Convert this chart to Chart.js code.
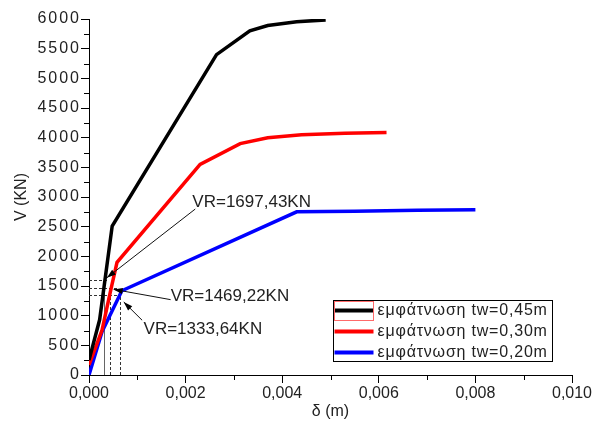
<!DOCTYPE html>
<html>
<head>
<meta charset="utf-8">
<script src="https://cdn.jsdelivr.net/npm/chart.js@4"></script>
<style>
  body { margin: 0; background: #fff; }
</style>
</head>
<body>
<canvas id="myChart" width="596" height="425"></canvas>
<script>
// series data, δ (m) and V (KN)
const labels = ['εμφάτνωση tw=0,45m', 'εμφάτνωση tw=0,30m', 'εμφάτνωση tw=0,20m'];
const d045 = [0, 0.00022, 0.00048, 0.00264, 0.00333, 0.0037, 0.0043, 0.0049];
const v045 = [250, 930, 2510, 5400, 5800, 5890, 5955, 5985];
const d030 = [0, 0.00027, 0.00045, 0.00058, 0.0023, 0.00313, 0.0037, 0.0044, 0.0053, 0.00616];
const v030 = [170, 755, 1430, 1900, 3550, 3900, 4000, 4050, 4075, 4085];
const d020 = [0, 0.00027, 0.00068, 0.0043, 0.0055, 0.0068, 0.008];
const v020 = [0, 730, 1420, 2750, 2760, 2775, 2785];

// guide lines
const guideV = [1606, 1465, 1342];
const guideD = [0.00032, 0.000445, 0.00065];
const guideEnd = [0.0004, 0.00062, 0.00065];

// notes
const noteText = ['VR=1697,43KN', 'VR=1469,22KN', 'VR=1333,64KN'];
const noteX = [0.00214, 0.00169, 0.00113];
const noteY = [2908, 1326, 767];
const arrowFromX = [0.0022, 0.00169, 0.0011];
const arrowFromY = [2797, 1270, 923];
const arrowToX = [0.00037, 0.00051, 0.00072];
const arrowToY = [1639, 1443, 1230];

const FONT = "'Liberation Sans', Arial, sans-serif";
const pts = (xs, ys) => xs.map((x, i) => ({ x: x, y: ys[i] }));

const extras = {
    id: 'extras',
    beforeDatasetsDraw(chart) {
        const c = chart.ctx, xs = chart.scales.x, ys = chart.scales.y;
        c.save();
        c.lineWidth = 1;
        for (let i = 0; i < guideV.length; i++) {
            const py = Math.round(ys.getPixelForValue(guideV[i])) + 0.5;
            const px = Math.round(xs.getPixelForValue(guideD[i])) + 0.5;
            c.strokeStyle = '#333';
            c.setLineDash([3, 2]);
            c.beginPath();
            c.moveTo(xs.getPixelForValue(0), py);
            c.lineTo(xs.getPixelForValue(guideEnd[i]), py);
            c.stroke();
            if (i == 0) { c.setLineDash([]); c.strokeStyle = '#666'; }
            c.beginPath();
            c.moveTo(px, ys.getPixelForValue(0));
            c.lineTo(px, py);
            c.stroke();
        }
        c.restore();
    },
    afterDraw(chart) {
        const c = chart.ctx, xs = chart.scales.x, ys = chart.scales.y;
        c.save();
        // minor ticks
        c.strokeStyle = '#000';
        c.lineWidth = 1;
        const bottom = ys.getPixelForValue(0), left = xs.getPixelForValue(0);
        for (let v = 250; v < 6000; v += 500) {
            const p = Math.round(ys.getPixelForValue(v)) + 0.5;
            c.beginPath(); c.moveTo(left - 5, p); c.lineTo(left, p); c.stroke();
        }
        for (let k = 1; k < 10; k += 2) {
            const p = Math.round(xs.getPixelForValue(k / 1000)) + 0.5;
            c.beginPath(); c.moveTo(p, bottom); c.lineTo(p, bottom + 5); c.stroke();
        }

        // notes with arrows
        c.fillStyle = '#222';
        c.font = '17px ' + FONT;
        c.textBaseline = 'middle';
        c.textAlign = 'left';
        for (let i = 0; i < noteText.length; i++) {
            c.fillText(noteText[i], xs.getPixelForValue(noteX[i]), ys.getPixelForValue(noteY[i]));
            const x1 = xs.getPixelForValue(arrowFromX[i]), y1 = ys.getPixelForValue(arrowFromY[i]);
            const x2 = xs.getPixelForValue(arrowToX[i]), y2 = ys.getPixelForValue(arrowToY[i]);
            const a = Math.atan2(y2 - y1, x2 - x1);
            c.strokeStyle = '#111';
            c.beginPath(); c.moveTo(x1, y1); c.lineTo(x2, y2); c.stroke();
            c.fillStyle = '#000';
            c.beginPath();
            c.moveTo(x2, y2);
            c.lineTo(x2 - 9 * Math.cos(a) + 3 * Math.sin(a), y2 - 9 * Math.sin(a) - 3 * Math.cos(a));
            c.lineTo(x2 - 9 * Math.cos(a) - 3 * Math.sin(a), y2 - 9 * Math.sin(a) + 3 * Math.cos(a));
            c.closePath();
            c.fill();
            c.fillStyle = '#222';
        }

        // legend box
        const lx = 333.5, ly = 300.5, lw = 219, lh = 61;
        c.fillStyle = '#fff';
        c.fillRect(lx, ly, lw, lh);
        c.strokeStyle = '#000';
        c.strokeRect(lx, ly, lw, lh);
        c.font = '16px ' + FONT;
        c.letterSpacing = '0.8px';
        chart.data.datasets.forEach((ds, i) => {
            const ry = ly + 10 + i * 21;
            c.strokeStyle = ds.borderColor;
            c.lineWidth = 4;
            c.beginPath(); c.moveTo(lx + 1, ry); c.lineTo(lx + 40, ry); c.stroke();
            c.fillStyle = '#222';
            c.fillText(ds.label, lx + 44, ry);
        });
        c.letterSpacing = '0px';
        c.lineWidth = 1;
        c.strokeStyle = '#ff6a6a';
        c.strokeRect(lx + 1, ly + 1, 39, 19);
        c.restore();
    }
};

// y labels in the picture are drawn a bit wider
function wideLabels(s) {
    s.width = 89;
    if (!s._wide) {
        const base = s.drawLabels;
        s.drawLabels = function (area) {
            this.ctx.letterSpacing = '2px';
            base.call(this, area);
            this.ctx.letterSpacing = '0px';
        };
        s._wide = true;
    }
}

const ctx = document.getElementById('myChart');

new Chart(
    ctx, {
    type: 'line',
    data: {
        datasets: [{
            label: labels[0],
            data: pts(d045, v045),
            borderColor: '#000000'
        }, {
            label: labels[1],
            data: pts(d030, v030),
            borderColor: '#ff0000'
        }, {
            label: labels[2],
            data: pts(d020, v020),
            borderColor: '#0000ff'
        }]
    },
    options: {
        responsive: false,
        animation: false,
        devicePixelRatio: 1,
        layout: { padding: { left: 0, top: 19, right: 24, bottom: 0 } },
        elements: {
            point: { radius: 0 },
            line: { borderWidth: 3.5, tension: 0, fill: false }
        },
        plugins: {
            legend: { display: false },
            tooltip: { enabled: false }
        },
        scales: {
            x: {
                type: 'linear',
                min: 0,
                max: 0.010,
                afterFit: s => { s.height = 50; },
                border: { color: '#000', width: 1 },
                grid: { drawOnChartArea: false, tickLength: 8, color: '#000' },
                ticks: {
                    stepSize: 0.002,
                    padding: 1,
                    color: '#222',
                    font: { family: FONT, size: 16 },
                    callback: v => v.toFixed(3).replace('.', ',')
                },
                title: {
                    display: true,
                    text: 'δ (m)',
                    color: '#222',
                    font: { family: FONT, size: 16 },
                    padding: { top: 0, bottom: 4 }
                }
            },
            y: {
                min: 0,
                max: 6000,
                afterFit: wideLabels,
                border: { color: '#000', width: 1 },
                grid: { drawOnChartArea: false, tickLength: 8, color: '#000' },
                ticks: {
                    stepSize: 500,
                    padding: 0,
                    color: '#222',
                    font: { family: FONT, size: 16 },
                    callback: v => String(v)
                },
                title: {
                    display: true,
                    text: 'V (KN)',
                    color: '#222',
                    font: { family: FONT, size: 16 },
                    padding: { top: 12, bottom: 0 }
                }
            }
        }
    },
    plugins: [extras]
}
);
</script>
</body>
</html>
